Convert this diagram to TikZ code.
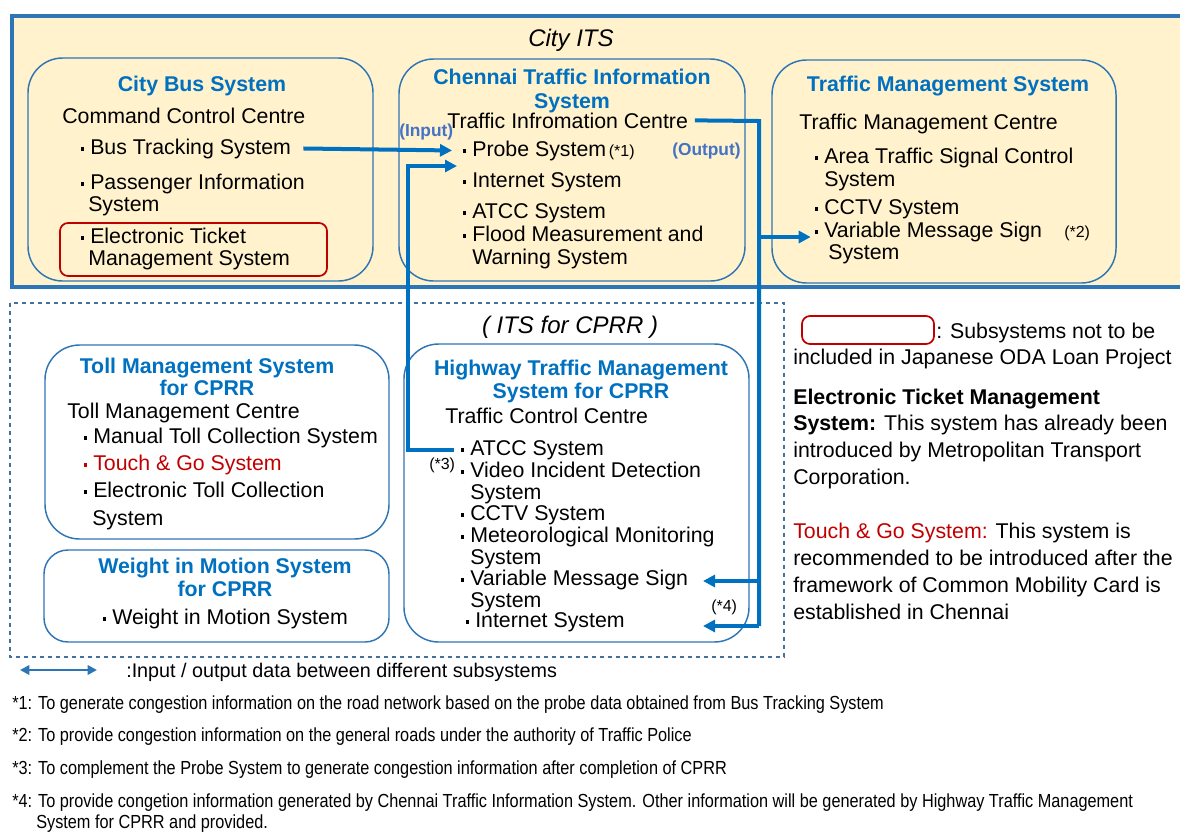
\documentclass[tikz,border=0pt]{standalone}
\usepackage{fontspec}
\setmainfont{Liberation Sans}
\newfontfamily\narrowfont[FakeStretch=0.86]{Liberation Sans}
\usetikzlibrary{arrows.meta}

\definecolor{itsfill}{HTML}{FFF2CC}
\definecolor{boxline}{HTML}{2E75B6}
\definecolor{dashline}{HTML}{41719C}
\definecolor{titleblue}{HTML}{0070C0}
\definecolor{ioblue}{HTML}{4472C4}
\definecolor{notred}{HTML}{C00000}

\newcommand\boxfont{\fontsize{16pt}{18pt}\selectfont}
\newcommand\itm{\llap{\raisebox{.3ex}{\rule{.16em}{.16em}}\hspace{.28em}}}

\begin{document}
\begin{tikzpicture}[x=0.75pt,y=-0.75pt,
    every node/.style={inner sep=0pt,font=\boxfont},
    sysbox/.style={draw=boxline,line width=1.1pt,rounded corners=26pt},
    notbox/.style={draw=notred,line width=1.3pt,rounded corners=6pt},
    title/.style={anchor=base,font=\boxfont\bfseries,text=titleblue},
    item/.style={anchor=base west},
    iolabel/.style={anchor=base west,font=\fontsize{13pt}{14pt}\selectfont\bfseries,text=ioblue},
    fnmark/.style={anchor=base west,font=\fontsize{12pt}{13pt}\selectfont},
    footnote/.style={anchor=base west,font=\narrowfont\fontsize{14.2pt}{15pt}\selectfont},
    ioarrow/.style={draw=titleblue,line width=3pt,-{Triangle[length=9pt,width=9pt]}}]
  \useasboundingbox (0,0) rectangle (1180,832);

  % City ITS frame
  \fill[itsfill] (12,16) rectangle (1180,287);
  \draw[boxline,line width=2.4pt] (1180,16) -- (12,16) -- (12,287) -- (1180,287);
  \node[anchor=base,font=\fontsize{18pt}{20pt}\selectfont\itshape] (cityits) at (571,46) {City ITS};

  % City Bus System
  \draw[sysbox] (28,58) rectangle (373,281);
  \draw[notbox] (60,223) rectangle (327,276);
  \node[title] (cbst) at (202,91) {City Bus System};
  \node[item] (ccc) at (62,123) {Command Control Centre};
  \node[item] (bts) at (90,154) {\itm Bus Tracking System};
  \node[item] (pis) at (90,189) {\itm Passenger Information};
  \node[item] (pis2) at (88,211) {System};
  \node[item] (etm) at (90,243) {\itm Electronic Ticket};
  \node[item] (etm2) at (88,265) {Management System};

  % Chennai Traffic Information System
  \draw[sysbox] (399,59) rectangle (745,281);
  \node[title] (ctis) at (572,84) {Chennai Traffic Information};
  \node[title] (ctis2) at (572,108) {System};
  \node[item] (tic) at (447,128) {Traffic Infromation Centre};
  \node[iolabel] (inlbl) at (399,136) {(Input)};
  \node[item] (probe) at (472,156) {\itm Probe System{\fontsize{12pt}{13pt}\selectfont\,(*1)}};
  \node[iolabel] (outlbl) at (672,155) {(Output)};
  \node[item] (cinet) at (472,187) {\itm Internet System};
  \node[item] (catcc) at (472,218) {\itm ATCC System};
  \node[item] (flood) at (472,241) {\itm Flood Measurement and};
  \node[item] (flood2) at (472,264) {Warning System};

  % Traffic Management System
  \draw[sysbox] (772,60) rectangle (1116,283);
  \node[title] (tmst) at (948,91) {Traffic Management System};
  \node[item] (tmc) at (799,129) {Traffic Management Centre};
  \node[item] (atsc) at (824,163) {\itm Area Traffic Signal Control};
  \node[item] (atsc2) at (824,186) {System};
  \node[item] (tcctv) at (824,214) {\itm CCTV System};
  \node[item] (tvms) at (824,237) {\itm Variable Message Sign};
  \node[item] (tvms2) at (828,259) {System};
  \node[fnmark] (fn2) at (1064,237) {(*2)};

  % ITS for CPRR frame
  \draw[dashline,dashed,line width=0.9pt] (10,303) rectangle (784,657);
  \node[anchor=base,font=\fontsize{18pt}{20pt}\selectfont\itshape] (itscprr) at (570,333) {( ITS for CPRR )};

  % Toll Management System
  \draw[sysbox] (45,345) rectangle (389,539);
  \node[title] (tollt) at (207,373) {Toll Management System};
  \node[title] (tollt2) at (207,395) {for CPRR};
  \node[item] (tollc) at (67,418) {Toll Management Centre};
  \node[item] (mtcs) at (93,443) {\itm Manual Toll Collection System};
  \node[item,text=notred] (tgs) at (93,470) {\itm Touch \& Go System};
  \node[item] (etcs) at (93,497) {\itm Electronic Toll Collection};
  \node[item] (etcs2) at (92,525) {System};

  % Weight in Motion System
  \draw[sysbox,rounded corners=18pt] (44,550) rectangle (389,642);
  \node[title] (wimt) at (225,573) {Weight in Motion System};
  \node[title] (wimt2) at (225,596) {for CPRR};
  \node[item] (wims) at (112,624) {\itm Weight in Motion System};

  % Highway Traffic Management System
  \draw[sysbox] (404,344) rectangle (749,642);
  \node[title] (htmt) at (581,375) {Highway Traffic Management};
  \node[title] (htmt2) at (581,398) {System for CPRR};
  \node[item] (tcc) at (445,423) {Traffic Control Centre};
  \node[item] (hatcc) at (470,455) {\itm ATCC System};
  \node[fnmark] (fn3) at (429,469) {(*3)};
  \node[item] (vid) at (470,477) {\itm Video Incident Detection};
  \node[item] (vid2) at (470,499) {System};
  \node[item] (hcctv) at (470,520) {\itm CCTV System};
  \node[item] (met) at (470,542) {\itm Meteorological Monitoring};
  \node[item] (met2) at (470,564) {System};
  \node[item] (hvms) at (470,585) {\itm Variable Message Sign};
  \node[item] (hvms2) at (470,607) {System};
  \node[fnmark] (fn4) at (711,611) {(*4)};
  \node[item] (hinet) at (475,627) {\itm Internet System};

  % data flows
  \coordinate (probein) at (457,166);
  \coordinate (outtop) at (759,121);
  \coordinate (outbot) at (759,626);
  \coordinate (hvmsin) at (703,581);
  \coordinate (hinetin) at (703,626);
  \draw[ioarrow] ([xshift=9]bts.east) -- ([xshift=-15]probe.west);
  \draw[ioarrow] ([xshift=-12]hatcc.west) -| ([xshift=-37]probein) -- (probein);
  \draw[ioarrow,-] ([xshift=5]tic.east) -- (outtop) -- (outbot);
  \draw[ioarrow] (outbot) -- (hinetin);
  \draw[ioarrow] (outbot |- hvmsin) -- (hvmsin);
  \draw[ioarrow] (outtop |- tvms.base) -- ([xshift=-10]tvms.base west);

  % legend
  \draw[notbox] (802,316) rectangle (934,344);
  \node[item] (lg1) at (936,338) {: Subsystems not to be};
  \node[item] (lg2) at (793,364) {included in Japanese ODA Loan Project};
  \node[item] (etmn) at (793,404) {\bfseries Electronic Ticket Management};
  \node[item] (etmn2) at (793,430) {{\bfseries System:} This system has already been};
  \node[item] (etmn3) at (793,457) {introduced by Metropolitan Transport};
  \node[item] (etmn4) at (793,484) {Corporation.};
  \node[item] (tgn) at (793,538) {{\color{notred}Touch \& Go System:} This system is};
  \node[item] (tgn2) at (793,565) {recommended to be introduced after the};
  \node[item] (tgn3) at (793,592) {framework of Common Mobility Card is};
  \node[item] (tgn4) at (793,619) {established in Chennai};

  \coordinate (lgl) at (20,670);
  \coordinate (lgr) at (97,670);
  \draw[boxline,line width=2pt,{Triangle[length=7pt,width=7pt]}-{Triangle[length=7pt,width=7pt]}] (lgl) -- (lgr);
  \node[anchor=base west,font=\fontsize{14.8pt}{16pt}\selectfont] (lgio) at (126,677) {:Input / output data between different subsystems};

  % footnotes
  \node[footnote] (n1) at (12,709) {*1: To generate congestion information on the road network based on the probe data obtained from Bus Tracking System};
  \node[footnote] (n2) at (12,741) {*2: To provide congestion information on the general roads under the authority of Traffic Police};
  \node[footnote] (n3) at (12,774) {*3: To complement the Probe System to generate congestion information after completion of CPRR};
  \node[footnote] (n4) at (12,807) {*4: To provide congetion information generated by Chennai Traffic Information System. Other information will be generated by Highway Traffic Management};
  \node[footnote] (n4b) at (36,828) {System for CPRR and provided.};
\end{tikzpicture}
\end{document}
